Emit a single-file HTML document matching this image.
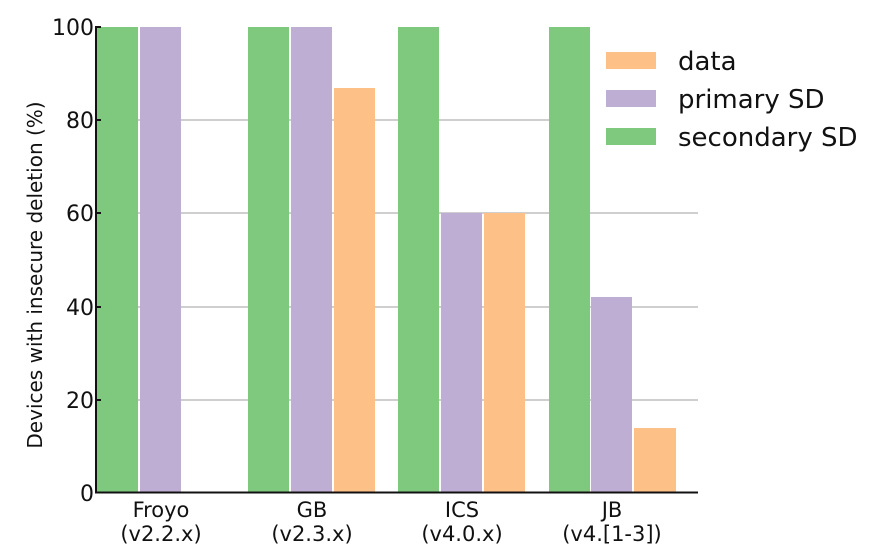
<!DOCTYPE html>
<html><head><meta charset="utf-8"><style>
html,body{margin:0;padding:0;background:#fff;}
svg{display:block;font-family:"DejaVu Sans","Liberation Sans",sans-serif;}
</style></head><body>
<svg width="884" height="557" viewBox="0 0 884 557" xmlns="http://www.w3.org/2000/svg">
<rect width="884" height="557" fill="#fff"/>
<g stroke="#cfcfcf" stroke-width="2">
<line x1="96" y1="120" x2="698" y2="120"/>
<line x1="96" y1="213" x2="698" y2="213"/>
<line x1="96" y1="307" x2="698" y2="307"/>
<line x1="96" y1="400" x2="698" y2="400"/>
</g>
<g>
<rect x="97" y="27" width="41" height="466" fill="#7fc97f"/>
<rect x="140" y="27" width="41" height="466" fill="#beaed4"/>
<rect x="248" y="27" width="41" height="466" fill="#7fc97f"/>
<rect x="291" y="27" width="41" height="466" fill="#beaed4"/>
<rect x="334" y="88" width="41" height="405" fill="#fdc086"/>
<rect x="398" y="27" width="41" height="466" fill="#7fc97f"/>
<rect x="441" y="213" width="41" height="280" fill="#beaed4"/>
<rect x="484" y="213" width="41" height="280" fill="#fdc086"/>
<rect x="549" y="27" width="41" height="466" fill="#7fc97f"/>
<rect x="591" y="297" width="41" height="196" fill="#beaed4"/>
<rect x="634" y="428" width="42" height="65" fill="#fdc086"/>
</g>
<rect x="590" y="40" width="290" height="120" fill="#fff"/>
<rect x="606" y="52" width="50" height="17" fill="#fdc086"/>
<rect x="606" y="90" width="50" height="17" fill="#beaed4"/>
<rect x="606" y="128" width="50" height="17" fill="#7fc97f"/>
<g font-size="26" fill="#111">
<text x="678" y="70">data</text>
<text x="678" y="108">primary SD</text>
<text x="678" y="146">secondary SD</text>
</g>
<g stroke="#111" stroke-width="2">
<line x1="96" y1="26" x2="96" y2="493"/>
<line x1="95" y1="492.5" x2="698" y2="492.5"/>
<line x1="96" y1="27" x2="101" y2="27"/>
<line x1="96" y1="120" x2="101" y2="120"/>
<line x1="96" y1="213" x2="101" y2="213"/>
<line x1="96" y1="307" x2="101" y2="307"/>
<line x1="96" y1="400" x2="101" y2="400"/>
</g>
<g font-size="22" fill="#111" text-anchor="end">
<text x="94" y="35">100</text>
<text x="94" y="128">80</text>
<text x="94" y="221">60</text>
<text x="94" y="315">40</text>
<text x="94" y="408">20</text>
<text x="94" y="501">0</text>
</g>
<g font-size="21" fill="#111" text-anchor="middle">
<text x="161" y="517">Froyo</text><text x="161" y="541">(v2.2.x)</text>
<text x="312" y="517">GB</text><text x="312" y="541">(v2.3.x)</text>
<text x="462" y="517">ICS</text><text x="462" y="541">(v4.0.x)</text>
<text x="612" y="517">JB</text><text x="612" y="541">(v4.[1-3])</text>
</g>
<text transform="translate(42,275) rotate(-90)" font-size="20" fill="#111" text-anchor="middle">Devices with insecure deletion (%)</text>
</svg>
</body></html>
